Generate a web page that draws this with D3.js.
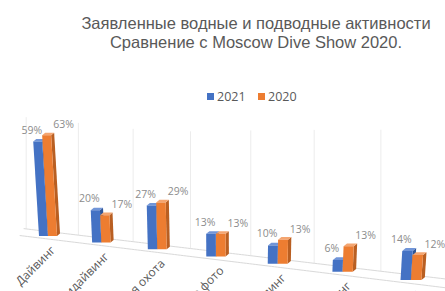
<!DOCTYPE html>
<html>
<head>
<meta charset="utf-8">
<script src="https://cdn.jsdelivr.net/npm/d3@7"></script>
<style>
  body { margin: 0; background: #fff; }
  svg { display: block; }
</style>
</head>
<body>
<div id="chart"></div>
<script>
const categories = ["Дайвинг", "Фридайвинг", "Подводная охота", "Подводное фото", "Снорклинг", "Виндсерфинг", "Яхтинг"]
const values2021 = [59, 20, 27, 13, 10, 6, 14]
const values2020 = [63, 17, 29, 13, 13, 13, 12]
const seriesNames = ["2021", "2020"]
const titleLines = ["Заявленные водные и подводные активности", "Сравнение с Moscow Dive Show 2020."]

const width = 445
const height = 291

const colors = {
    "2021": {front: "#4472c4", side: "#2f5597", top: "#7195d8"},
    "2020": {front: "#ed7d31", side: "#b95f22", top: "#f4a570"}
}

const svg = d3.select("#chart")
    .append("svg")
    .attr("width", width)
    .attr("height", height)

// perspective: the category axis comes towards the viewer on the right
const k = 0.0231
const persp = t => 1 / (1 - k * t)
const groupX = t => (50 + 51 * t) * persp(t)
const floorY = t => (236 + 0.87 * t) * persp(t)

const y = d3.scaleLinear().domain([0, 70]).range([0, 112])
const depth = d3.scaleLinear().domain([0, 2, 6]).range([1, 1.01, 1.3])
const barH = (t, v) => y(v) * depth(t)

// floor
const ts = d3.range(-0.55, 6.9, 0.05)
const backEdge = ts.map(t => [groupX(t) + 2 * persp(t), floorY(t) - 4 * persp(t)])
const frontEdge = ts.map(t => [groupX(t) - 2 * persp(t), floorY(t) + 3 * persp(t)])
const line = d3.line()

// back wall grid lines at category boundaries
svg.append("g")
    .selectAll("line")
    .data(d3.range(-0.5, 7, 1))
    .enter()
    .append("line")
    .attr("x1", t => groupX(t) + 2 * persp(t))
    .attr("x2", t => groupX(t) + 2 * persp(t))
    .attr("y1", t => floorY(t) - 4 * persp(t))
    .attr("y2", t => floorY(t) - 4 * persp(t) - barH(t, 70))
    .attr("stroke", "#ececec")
    .attr("stroke-width", 1)

svg.append("path")
    .attr("d", line(backEdge))
    .attr("fill", "none")
    .attr("stroke", "#d9d9d9")
svg.append("path")
    .attr("d", line(frontEdge))
    .attr("fill", "none")
    .attr("stroke", "#d9d9d9")

function bar(g, x0, base, w, h, s, c) {
    const lean = (x0 - 222) * h / 3000
    const sd = 3 * s, sdy = 2.5 * s
    const top = base - h
    g.append("polygon")
        .attr("points", [[x0 + w, base], [x0 + w + sd, base - sdy], [x0 + w + sd + lean, top - sdy], [x0 + w + lean, top]].join(" "))
        .attr("fill", c.side)
    g.append("polygon")
        .attr("points", [[x0 + lean, top], [x0 + w + lean, top], [x0 + w + sd + lean, top - sdy], [x0 + sd + lean, top - sdy]].join(" "))
        .attr("fill", c.top)
    g.append("polygon")
        .attr("points", [[x0, base], [x0 + w, base], [x0 + w + lean, top], [x0 + lean, top]].join(" "))
        .attr("fill", c.front)
    return {x: x0 + lean + w / 2, top: top}
}

const bars = svg.append("g")
const labels = svg.append("g")
    .attr("font-family", "'Open Sans', sans-serif")
    .attr("font-size", 10.5)
    .attr("fill", "#8c8c8c")
    .attr("text-anchor", "middle")

categories.forEach((name, i) => {
    const s = persp(i)
    const base = floorY(i)
    const w = 9 * s
    const blueLeft = groupX(i) - 11 * s
    const orangeLeft = blueLeft + w
    const b = bar(bars, blueLeft, base, w, barH(i, values2021[i]), s, colors["2021"])
    const o = bar(bars, orangeLeft, base, w, barH(i, values2020[i]), s, colors["2020"])
    labels.append("text")
        .attr("x", b.x - 6)
        .attr("y", b.top - 8)
        .text(values2021[i] + "%")
    labels.append("text")
        .attr("x", o.x + 17)
        .attr("y", o.top - 7)
        .text(values2020[i] + "%")
})

// category labels
svg.append("g")
    .selectAll("text")
    .data(categories)
    .enter()
    .append("text")
    .attr("transform", (d, i) => "translate(" + (groupX(i) + 6 * persp(i)) + "," + (floorY(i) + 15) + ") rotate(-45)")
    .attr("text-anchor", "end")
    .attr("font-family", "'Open Sans', sans-serif")
    .attr("font-size", 12)
    .attr("fill", "#595959")
    .text(d => d)

// title
svg.append("g")
    .selectAll("text")
    .data(titleLines)
    .enter()
    .append("text")
    .attr("x", 256)
    .attr("y", (d, i) => 29 + i * 18.5)
    .attr("text-anchor", "middle")
    .attr("font-family", "'Liberation Sans', Arial, sans-serif")
    .attr("font-size", 16.5)
    .attr("fill", "#595959")
    .text(d => d)

// legend
const legend = svg.append("g")
    .selectAll("g")
    .data(seriesNames)
    .enter()
    .append("g")
    .attr("transform", (d, i) => "translate(" + (207 + i * 51) + ",93)")
legend.append("rect")
    .attr("width", 7)
    .attr("height", 7)
    .attr("fill", d => colors[d].front)
legend.append("text")
    .attr("x", 10)
    .attr("y", 7.5)
    .attr("font-family", "'Open Sans', sans-serif")
    .attr("font-size", 12.5)
    .attr("fill", "#595959")
    .text(d => d)
</script>
</body>
</html>
